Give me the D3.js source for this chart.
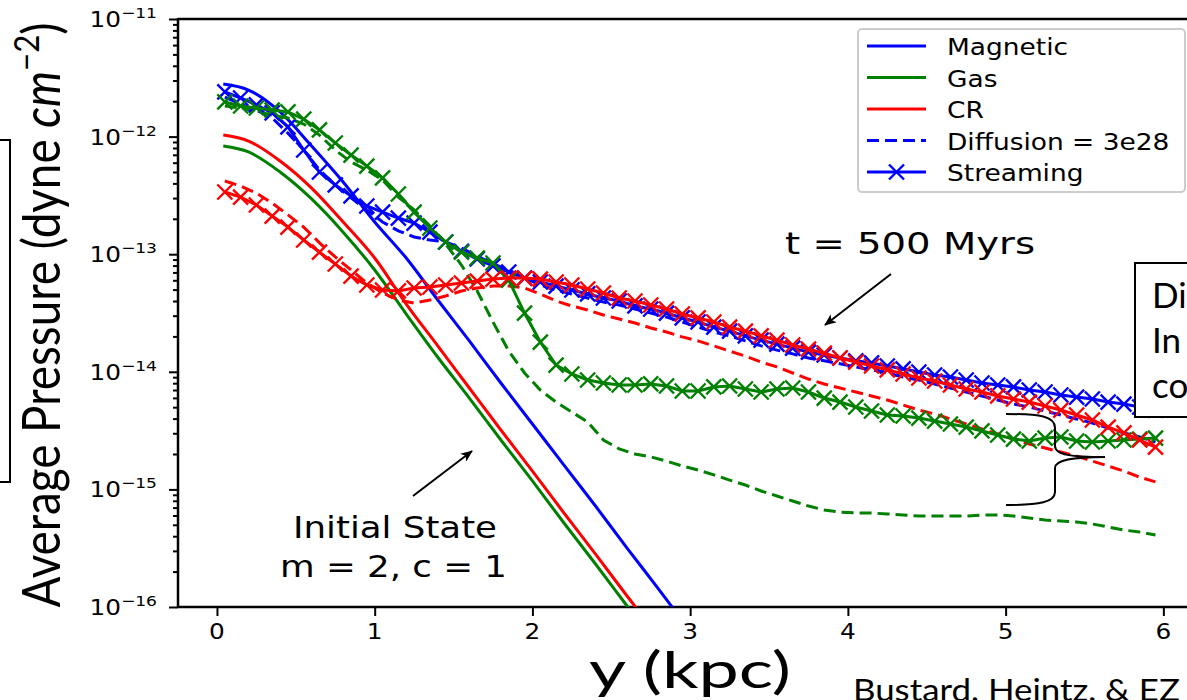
<!DOCTYPE html>
<html><head><meta charset="utf-8">
<script src="https://cdn.jsdelivr.net/npm/d3@7"></script>
<style>html,body{margin:0;padding:0;background:#fff;overflow:hidden}</style>
</head><body>
<svg id="c" width="1187" height="700"></svg>
<script>
// ---------- DATA ----------
const xTicks = [0, 1, 2, 3, 4, 5, 6];
const yTickExps = [-16, -15, -14, -13, -12, -11];
const yTickLabels = ["10", "10", "10", "10", "10", "10"];
const yTickSups = ["\u221216", "\u221215", "\u221214", "\u221213", "\u221212", "\u221211"];

const legendLabels = ["Magnetic", "Gas", "CR", "Diffusion = 3e28", "Streaming"];

// initial state (t = 0)
const xInit = [0.04, 0.2, 0.4, 0.6, 0.8, 1.0, 1.2, 1.4, 1.6, 1.8, 2.0, 2.2, 2.4, 2.6, 2.8, 3.0];
const magInit = [2.80e-12, 2.49e-12, 1.62e-12, 8.32e-13, 4.11e-13, 1.88e-13, 9.28e-14, 4.08e-14, 1.83e-14, 8.03e-15, 3.60e-15, 1.61e-15, 7.22e-16, 3.17e-16, 1.42e-16, 6.25e-17];
const gasInit = [8.32e-13, 7.40e-13, 5.00e-13, 2.95e-13, 1.54e-13, 7.34e-14, 3.10e-14, 1.33e-14, 5.98e-15, 2.63e-15, 1.18e-15, 5.18e-16, 2.32e-16, 1.02e-16, 4.48e-17, 1.97e-17];
const crInit = [1.03e-12, 9.17e-13, 6.20e-13, 3.65e-13, 1.88e-13, 9.28e-14, 3.77e-14, 1.66e-14, 7.28e-15, 3.20e-15, 1.43e-15, 6.30e-16, 2.82e-16, 1.24e-16, 5.56e-17, 2.44e-17];

// t = 500 Myrs
const xGrid = [0.05, 0.15, 0.25, 0.35, 0.45, 0.55, 0.65, 0.75, 0.85, 0.95,
  1.05, 1.15, 1.25, 1.35, 1.45, 1.55, 1.65, 1.75, 1.85, 1.95,
  2.05, 2.15, 2.25, 2.35, 2.45, 2.55, 2.65, 2.75, 2.85, 2.95,
  3.05, 3.15, 3.25, 3.35, 3.45, 3.55, 3.65, 3.75, 3.85, 3.95,
  4.05, 4.15, 4.25, 4.35, 4.45, 4.55, 4.65, 4.75, 4.85, 4.95,
  5.05, 5.15, 5.25, 5.35, 5.45, 5.55, 5.65, 5.75, 5.85, 5.95];

const magDiff = [2.17e-12, 1.89e-12, 1.68e-12, 1.44e-12, 1.07e-12, 7.69e-13, 5.20e-13, 3.88e-13, 3.01e-13, 2.38e-13,
  1.88e-13, 1.58e-13, 1.40e-13, 1.32e-13, 1.27e-13, 1.13e-13, 9.65e-14, 8.25e-14, 7.34e-14, 6.27e-14,
  5.47e-14, 4.96e-14, 4.59e-14, 4.24e-14, 3.92e-14, 3.70e-14, 3.42e-14, 3.16e-14, 2.92e-14, 2.65e-14,
  2.40e-14, 2.18e-14, 2.02e-14, 1.83e-14, 1.66e-14, 1.53e-14, 1.42e-14, 1.31e-14, 1.24e-14, 1.17e-14,
  1.10e-14, 1.04e-14, 9.77e-15, 9.03e-15, 8.52e-15, 7.88e-15, 7.28e-15, 6.73e-15, 6.23e-15, 5.76e-15,
  5.32e-15, 5.02e-15, 4.64e-15, 4.29e-15, 3.97e-15, 3.67e-15, 3.33e-15, 3.02e-15, 2.79e-15, 2.53e-15];

const gasDiff = [1.82e-12, 1.75e-12, 1.65e-12, 1.52e-12, 1.44e-12, 1.28e-12, 1.03e-12, 7.69e-13, 6.08e-13, 5.20e-13,
  4.27e-13, 3.06e-13, 2.38e-13, 1.74e-13, 1.22e-13, 8.09e-14, 4.87e-14, 2.65e-14, 1.50e-14, 9.77e-15,
  7.00e-15, 5.53e-15, 4.55e-15, 3.74e-15, 2.63e-15, 2.21e-15, 2.00e-15, 1.89e-15, 1.74e-15, 1.58e-15,
  1.46e-15, 1.33e-15, 1.20e-15, 1.09e-15, 9.69e-16, 8.79e-16, 7.97e-16, 7.22e-16, 6.68e-16, 6.42e-16,
  6.30e-16, 6.30e-16, 6.18e-16, 6.06e-16, 5.94e-16, 5.94e-16, 5.94e-16, 5.94e-16, 6.06e-16, 6.06e-16,
  5.94e-16, 5.71e-16, 5.49e-16, 5.38e-16, 5.28e-16, 5.08e-16, 4.79e-16, 4.51e-16, 4.34e-16, 4.09e-16];

const crDiff = [4.19e-13, 3.80e-13, 3.31e-13, 2.72e-13, 2.16e-13, 1.70e-13, 1.25e-13, 9.47e-14, 7.34e-14, 5.69e-14,
  4.68e-14, 4.08e-14, 3.84e-14, 4.08e-14, 4.41e-14, 4.87e-14, 5.16e-14, 5.36e-14, 5.36e-14, 5.16e-14,
  4.59e-14, 4.00e-14, 3.63e-14, 3.35e-14, 3.04e-14, 2.81e-14, 2.60e-14, 2.36e-14, 2.18e-14, 1.98e-14,
  1.83e-14, 1.66e-14, 1.50e-14, 1.36e-14, 1.21e-14, 1.10e-14, 9.77e-15, 8.68e-15, 7.88e-15, 7.28e-15,
  6.73e-15, 6.23e-15, 5.76e-15, 5.22e-15, 4.73e-15, 4.38e-15, 3.97e-15, 3.60e-15, 3.26e-15, 2.96e-15,
  2.68e-15, 2.43e-15, 2.25e-15, 2.08e-15, 1.92e-15, 1.74e-15, 1.58e-15, 1.43e-15, 1.27e-15, 1.16e-15];

const magStream = [2.40e-12, 2.13e-12, 1.86e-12, 1.59e-12, 1.21e-12, 7.69e-13, 5.00e-13, 3.88e-13, 3.13e-13, 2.57e-13,
  2.28e-13, 2.03e-13, 1.84e-13, 1.54e-13, 1.27e-13, 1.06e-13, 9.10e-14, 7.94e-14, 7.06e-14, 6.27e-14,
  5.80e-14, 5.36e-14, 4.96e-14, 4.59e-14, 4.24e-14, 4.00e-14, 3.63e-14, 3.42e-14, 3.16e-14, 2.87e-14,
  2.65e-14, 2.40e-14, 2.22e-14, 2.02e-14, 1.86e-14, 1.72e-14, 1.59e-14, 1.47e-14, 1.39e-14, 1.31e-14,
  1.24e-14, 1.19e-14, 1.12e-14, 1.06e-14, 9.96e-15, 9.39e-15, 9.03e-15, 8.52e-15, 8.03e-15, 7.72e-15,
  7.43e-15, 7.00e-15, 6.73e-15, 6.35e-15, 6.10e-15, 5.87e-15, 5.53e-15, 5.32e-15, 5.02e-15, 4.73e-15];

const gasStream = [1.97e-12, 1.82e-12, 1.75e-12, 1.68e-12, 1.62e-12, 1.41e-12, 1.14e-12, 8.82e-13, 6.97e-13, 5.62e-13,
  4.45e-13, 3.25e-13, 2.28e-13, 1.67e-13, 1.27e-13, 1.04e-13, 9.28e-14, 8.42e-14, 6.03e-14, 3.16e-14,
  1.79e-14, 1.14e-14, 9.58e-15, 8.52e-15, 8.03e-15, 7.72e-15, 7.72e-15, 7.88e-15, 7.57e-15, 6.87e-15,
  6.87e-15, 7.43e-15, 7.57e-15, 7.14e-15, 6.73e-15, 7.14e-15, 7.28e-15, 6.73e-15, 5.98e-15, 5.53e-15,
  5.02e-15, 4.64e-15, 4.29e-15, 4.21e-15, 4.04e-15, 3.81e-15, 3.60e-15, 3.39e-15, 3.14e-15, 2.90e-15,
  2.68e-15, 2.58e-15, 2.73e-15, 2.79e-15, 2.58e-15, 2.53e-15, 2.58e-15, 2.63e-15, 2.68e-15, 2.73e-15];

const crStream = [3.38e-13, 3.06e-13, 2.62e-13, 2.11e-13, 1.70e-13, 1.32e-13, 1.04e-13, 8.25e-14, 6.52e-14, 5.47e-14,
  4.96e-14, 4.87e-14, 5.16e-14, 5.26e-14, 5.47e-14, 5.69e-14, 5.91e-14, 6.15e-14, 6.27e-14, 6.27e-14,
  6.15e-14, 5.80e-14, 5.47e-14, 5.06e-14, 4.68e-14, 4.24e-14, 4.00e-14, 3.70e-14, 3.42e-14, 3.10e-14,
  2.87e-14, 2.65e-14, 2.40e-14, 2.22e-14, 2.02e-14, 1.86e-14, 1.69e-14, 1.56e-14, 1.44e-14, 1.31e-14,
  1.21e-14, 1.12e-14, 1.04e-14, 9.58e-15, 8.86e-15, 8.35e-15, 7.72e-15, 7.14e-15, 6.73e-15, 6.23e-15,
  5.87e-15, 5.53e-15, 5.12e-15, 4.73e-15, 4.29e-15, 3.89e-15, 3.39e-15, 3.02e-15, 2.63e-15, 2.29e-15];

// ---------- CHART ----------
const BLUE = "#0000ff", GREEN = "#008000", RED = "#ff0000";
const svg = d3.select("#c");
const L = 178, T = 19, B = 607, R = 1202;
const x = d3.scaleLinear().domain([-0.247, 6.245]).range([L, R]);
const y = d3.scaleLog().domain([1e-16, 1e-11]).range([B, T]);

const defs = svg.append("defs");
defs.append("clipPath").attr("id", "plotclip").append("rect")
  .attr("x", L).attr("y", T).attr("width", R - L).attr("height", B - T);
defs.append("marker").attr("id", "ah").attr("viewBox", "0 0 12 10")
  .attr("refX", 11).attr("refY", 5).attr("markerWidth", 12).attr("markerHeight", 10)
  .attr("markerUnits", "userSpaceOnUse").attr("orient", "auto")
  .append("path").attr("d", "M0,0 L12,5 L0,10 L3,5 Z").attr("fill", "#000");

const DEJ = "DejaVu Sans";
const CAL = "Lato";

// axes ticks
const yMajorVals = yTickExps.map(e => Math.pow(10, e));
const yMinorVals = y.ticks().filter(v => !yMajorVals.some(m => Math.abs(Math.log10(v) - Math.log10(m)) < 1e-6));

const gyMinor = svg.append("g").attr("transform", `translate(${L},0)`)
  .call(d3.axisLeft(y).tickValues(yMinorVals).tickSize(5).tickSizeOuter(0).tickFormat(""));
const gyMajor = svg.append("g").attr("transform", `translate(${L},0)`)
  .call(d3.axisLeft(y).tickValues(yMajorVals).tickSize(9).tickSizeOuter(0).tickFormat(""));
const gx = svg.append("g").attr("transform", `translate(0,${B})`)
  .call(d3.axisBottom(x).tickValues(xTicks).tickSize(9).tickSizeOuter(0).tickFormat(""));
[gyMinor, gyMajor, gx].forEach(g => {
  g.select(".domain").remove();
  g.selectAll(".tick line").attr("stroke", "#000").attr("stroke-width", 2);
});

// y tick labels (10^n)
yMajorVals.forEach((v, i) => {
  const t = svg.append("text")
    .attr("transform", `translate(157,${y(v) + 8}) scale(1.18,1)`)
    .attr("text-anchor", "end").attr("font-family", DEJ).attr("fill", "#000");
  t.append("tspan").attr("font-size", 21).text(yTickLabels[i]);
  t.append("tspan").attr("font-size", 14.5).attr("dy", -9).text(yTickSups[i]);
});
// x tick labels
xTicks.forEach(v => {
  svg.append("text").attr("transform", `translate(${x(v)},639) scale(1.18,1)`)
    .attr("text-anchor", "middle").attr("font-family", DEJ).attr("font-size", 21)
    .attr("fill", "#000").text(String(v));
});

// spines
const sp = svg.append("g").attr("stroke", "#000").attr("stroke-width", 2.5);
sp.append("line").attr("x1", L).attr("x2", L).attr("y1", T - 1).attr("y2", B + 1);
sp.append("line").attr("x1", L).attr("x2", R).attr("y1", B).attr("y2", B);
sp.append("line").attr("x1", L).attr("x2", R).attr("y1", T).attr("y2", T);
sp.append("line").attr("x1", R).attr("x2", R).attr("y1", T).attr("y2", B);

// lines
const plot = svg.append("g").attr("clip-path", "url(#plotclip)");
const lineInit = d3.line().x((d, i) => x(xInit[i])).y(d => y(d)).curve(d3.curveMonotoneX);
const lineGrid = d3.line().x((d, i) => x(xGrid[i])).y(d => y(d));

[[magInit, BLUE], [gasInit, GREEN], [crInit, RED]].forEach(([arr, c]) => {
  plot.append("path").datum(arr).attr("d", lineInit).attr("fill", "none")
    .attr("stroke", c).attr("stroke-width", 3);
});
[[magDiff, BLUE], [gasDiff, GREEN], [crDiff, RED]].forEach(([arr, c]) => {
  plot.append("path").datum(arr).attr("d", lineGrid).attr("fill", "none")
    .attr("stroke", c).attr("stroke-width", 3).attr("stroke-dasharray", "12,6");
});
const xMark = "M-7.5,-7.5L7.5,7.5M-7.5,7.5L7.5,-7.5";
[[magStream, BLUE], [gasStream, GREEN], [crStream, RED]].forEach(([arr, c]) => {
  const g = plot.append("g");
  g.append("path").datum(arr).attr("d", lineGrid).attr("fill", "none")
    .attr("stroke", c).attr("stroke-width", 3);
  g.selectAll("path.m").data(arr).join("path").attr("class", "m")
    .attr("transform", (d, i) => `translate(${x(xGrid[i])},${y(d)})`)
    .attr("d", xMark).attr("stroke", c).attr("stroke-width", 2.4).attr("fill", "none");
});

// legend
const lg = svg.append("g");
lg.append("rect").attr("x", 858).attr("y", 29).attr("width", 327).attr("height", 163).attr("rx", 4)
  .attr("fill", "#fff").attr("fill-opacity", 0.85).attr("stroke", "#cccccc").attr("stroke-width", 2);
const legStyles = [
  { c: BLUE, dash: null, mark: false },
  { c: GREEN, dash: null, mark: false },
  { c: RED, dash: null, mark: false },
  { c: BLUE, dash: "12,6", mark: false },
  { c: BLUE, dash: null, mark: true }
];
const legY = [46, 77.5, 109, 140.5, 172];
legendLabels.forEach((lab, i) => {
  const s = legStyles[i];
  const ln = lg.append("line").attr("x1", 867).attr("x2", 926).attr("y1", legY[i]).attr("y2", legY[i])
    .attr("stroke", s.c).attr("stroke-width", 3);
  if (s.dash) ln.attr("stroke-dasharray", s.dash);
  if (s.mark) lg.append("path").attr("transform", `translate(896.5,${legY[i]})`).attr("d", xMark)
    .attr("stroke", s.c).attr("stroke-width", 2.4).attr("fill", "none");
  lg.append("text").attr("transform", `translate(947,${legY[i] + 9}) scale(1.15,1)`)
    .attr("font-family", DEJ).attr("font-size", 23).attr("fill", "#000").text(lab);
});

// annotations
const ann = svg.append("g");
ann.append("text").attr("x", 785).attr("y", 254).attr("font-family", DEJ).attr("font-size", 30)
  .attr("textLength", 250).attr("lengthAdjust", "spacingAndGlyphs").text("t = 500 Myrs");
ann.append("line").attr("x1", 891).attr("y1", 274).attr("x2", 825).attr("y2", 325)
  .attr("stroke", "#000").attr("stroke-width", 2).attr("marker-end", "url(#ah)");
ann.append("text").attr("x", 293).attr("y", 538).attr("font-family", DEJ).attr("font-size", 30)
  .attr("textLength", 204).attr("lengthAdjust", "spacingAndGlyphs").text("Initial State");
ann.append("text").attr("x", 280).attr("y", 577).attr("font-family", DEJ).attr("font-size", 30)
  .attr("textLength", 227).attr("lengthAdjust", "spacingAndGlyphs").text("m = 2, c = 1");
ann.append("line").attr("x1", 413).attr("y1", 496).attr("x2", 472).attr("y2", 451)
  .attr("stroke", "#000").attr("stroke-width", 2).attr("marker-end", "url(#ah)");

// brace
ann.append("path")
  .attr("d", "M1006,414 C1040,414 1055,416 1055,428 L1055,446 C1055,455 1072,457 1105,457 M1105,457 C1072,457 1055,460 1055,468 L1055,492 C1055,502 1040,505 1006,505")
  .attr("fill", "none").attr("stroke", "#000").attr("stroke-width", 2);

// right text box (cut off)
ann.append("rect").attr("x", 1135).attr("y", 263).attr("width", 80).attr("height", 154)
  .attr("fill", "#fff").attr("stroke", "#000").attr("stroke-width", 2);
["Dif", "In", "co"].forEach((t, i) => {
  ann.append("text").attr("x", 1152).attr("y", 308 + i * 45).attr("font-family", CAL)
    .attr("font-size", 35).attr("fill", "#000").text(t);
});

// left box (cut off)
ann.append("rect").attr("x", -20).attr("y", 140).attr("width", 30).attr("height", 342)
  .attr("fill", "none").attr("stroke", "#000").attr("stroke-width", 2);

// axis titles
const yl = svg.append("text").attr("transform", "translate(60,315) scale(1.18,1) rotate(-90)")
  .attr("text-anchor", "middle").attr("font-family", CAL).attr("font-size", 44).attr("fill", "#000")
  .attr("textLength", 585).attr("lengthAdjust", "spacingAndGlyphs");
yl.append("tspan").text("Average Pressure (dyne ");
yl.append("tspan").attr("font-style", "italic").text("cm");
yl.append("tspan").attr("font-size", 30).attr("dy", -18).text("\u22122");
yl.append("tspan").attr("dy", 18).text(")");

svg.append("text").attr("x", 690).attr("y", 688).attr("text-anchor", "middle")
  .attr("font-family", CAL).attr("font-size", 50).attr("fill", "#000")
  .attr("textLength", 202).attr("lengthAdjust", "spacingAndGlyphs").text("y (kpc)");

svg.append("text").attr("x", 853).attr("y", 701).attr("font-family", CAL).attr("font-size", 30)
  .attr("fill", "#000").attr("textLength", 327).attr("lengthAdjust", "spacingAndGlyphs")
  .text("Bustard, Heintz, & EZ");
</script>
</body></html>
